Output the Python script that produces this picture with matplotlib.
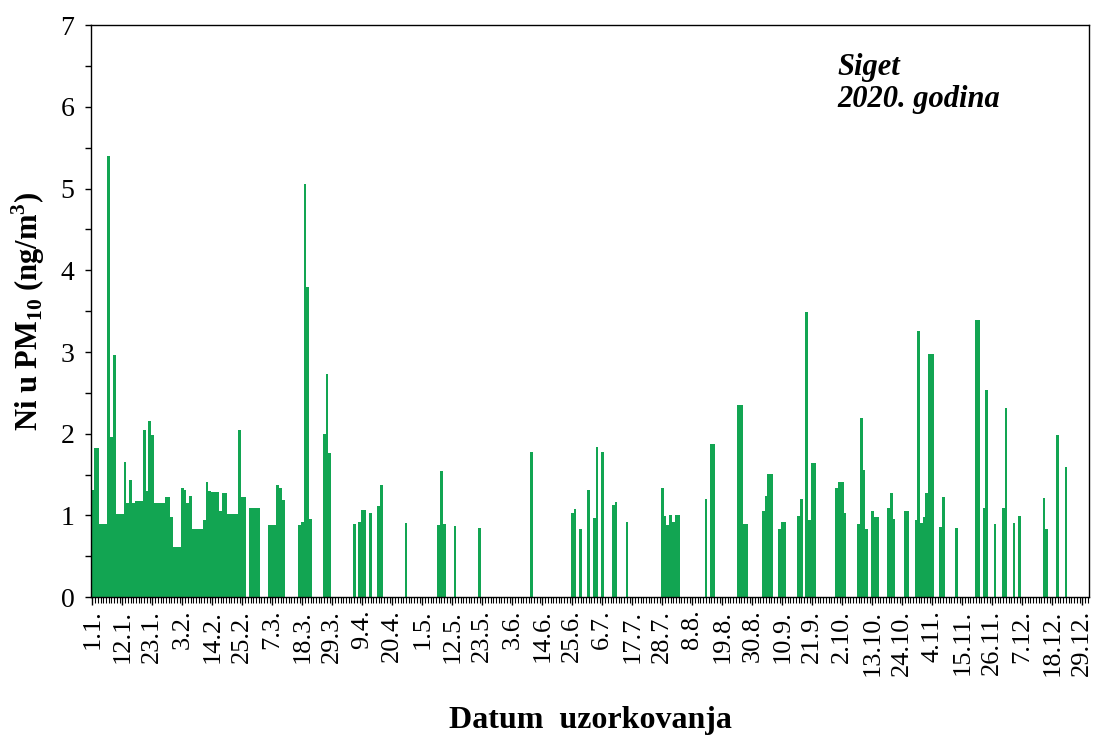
import matplotlib
matplotlib.use("Agg")
import matplotlib.pyplot as plt
from matplotlib.ticker import MultipleLocator, FixedLocator

# Ni u PM10, Siget 2020 -- day of year (0 = 1.1.) and measured value (ng/m3)
sample_days = [
    0, 1, 2, 3, 4, 5, 6, 7, 8, 9, 10, 11, 12, 13, 14, 15, 16, 17, 18, 19,
    20, 21, 22, 23, 24, 25, 26, 27, 28, 29, 30, 31, 32, 33, 34, 35, 36, 37, 38, 39,
    40, 41, 42, 43, 44, 45, 46, 47, 48, 49, 50, 51, 52, 53, 54, 55, 56,
    58, 59, 60, 61, 65, 66, 67, 68, 69, 70,
    76, 77, 78, 79, 80, 85, 86, 87,
    96, 98, 99, 100, 102, 105, 106, 115, 127, 128, 129, 133, 142, 161,
    176, 177, 179, 182, 184, 185, 187, 191, 192, 196,
    209, 210, 211, 212, 213, 214, 215, 225, 227, 228, 237, 238, 239, 240,
    246, 247, 248, 249, 252, 253, 254, 259, 260, 262, 263, 264, 265,
    273, 274, 275, 276, 281, 282, 283, 284, 286, 287, 288,
    292, 293, 294, 298, 299, 302, 303, 304, 305, 306, 307, 308, 311, 312, 317,
    324, 325, 327, 328, 331, 334, 335, 338, 340, 349, 350, 354, 357,
]
ni_values = [
    1.31, 1.82, 1.82, 0.90, 0.90, 0.90, 5.40, 1.96, 2.96, 1.02, 1.02, 1.02, 1.66, 1.15, 1.43, 1.15, 1.18, 1.18, 1.18, 2.04,
    1.30, 2.15, 1.98, 1.15, 1.15, 1.15, 1.15, 1.22, 1.22, 0.98, 0.61, 0.61, 0.61, 1.33, 1.31, 1.15, 1.24, 0.84, 0.84, 0.84,
    0.84, 0.94, 1.41, 1.30, 1.29, 1.29, 1.29, 1.05, 1.28, 1.28, 1.02, 1.02, 1.02, 1.02, 2.04, 1.22, 1.22,
    1.09, 1.09, 1.09, 1.09, 0.88, 0.88, 0.88, 1.37, 1.33, 1.19,
    0.88, 0.92, 5.06, 3.79, 0.96, 2.00, 2.73, 1.77,
    0.90, 0.92, 1.07, 1.07, 1.03, 1.11, 1.37, 0.91, 0.88, 1.54, 0.90, 0.87, 0.85, 1.78,
    1.03, 1.08, 0.84, 1.31, 0.97, 1.84, 1.78, 1.13, 1.17, 0.92,
    1.33, 0.99, 0.88, 1.01, 0.92, 1.01, 1.01, 1.20, 1.87, 1.87, 2.35, 2.35, 0.90, 0.90,
    1.06, 1.24, 1.51, 1.51, 0.84, 0.92, 0.92, 0.99, 1.20, 3.49, 0.94, 1.64, 1.64,
    1.33, 1.41, 1.41, 1.03, 0.90, 2.19, 1.56, 0.84, 1.06, 0.98, 0.98,
    1.09, 1.28, 0.96, 1.06, 1.06, 0.94, 3.26, 0.91, 0.98, 1.28, 2.98, 2.98, 0.86, 1.22, 0.85,
    3.39, 3.39, 1.09, 2.53, 0.89, 1.09, 2.32, 0.91, 0.99, 1.21, 0.84, 1.99, 1.59,
]

tick_days = list(range(0, 366, 11))
tick_labels = [
    "1.1.", "12.1.", "23.1.", "3.2.", "14.2.", "25.2.", "7.3.", "18.3.", "29.3.",
    "9.4.", "20.4.", "1.5.", "12.5.", "23.5.", "3.6.", "14.6.", "25.6.", "6.7.",
    "17.7.", "28.7.", "8.8.", "19.8.", "30.8.", "10.9.", "21.9.", "2.10.", "13.10.",
    "24.10.", "4.11.", "15.11.", "26.11.", "7.12.", "18.12.", "29.12.",
]

plt.rcParams['font.family'] = ['Liberation Serif', 'DejaVu Serif']
plt.rcParams['mathtext.fontset'] = 'custom'
plt.rcParams['mathtext.rm'] = 'Liberation Serif'
plt.rcParams['mathtext.bf'] = 'Liberation Serif:bold'

fig = plt.figure(figsize=(10.99, 7.40), dpi=100)
ax = fig.add_axes([0.0828, 0.193, 0.9082, 0.773])

ax.bar(sample_days, ni_values, width=1.0, color='#12a552', edgecolor='none', align='center')

ax.set_xlim(-0.5, 365.5)
ax.set_ylim(0, 7)

# y axis
ax.yaxis.set_major_locator(MultipleLocator(1))
ax.yaxis.set_minor_locator(MultipleLocator(0.5))
ax.tick_params(axis='y', which='both', direction='out', length=4, width=1, labelsize=20, pad=8)

# x axis: tick every day, label every 11 days
ax.xaxis.set_major_locator(FixedLocator(tick_days))
ax.xaxis.set_minor_locator(MultipleLocator(1))
ax.set_xticklabels(tick_labels, rotation=90, va='top', ha='center')
ax.tick_params(axis='x', which='major', direction='out', length=6, width=1, labelsize=19, pad=3)
ax.tick_params(axis='x', which='minor', direction='out', length=4, width=0.8)

for s in ax.spines.values():
    s.set_linewidth(1)
    s.set_color('black')

ax.set_ylabel(r"Ni u PM$_{\mathbf{10}}$ (ng/m$^{\mathbf{3}}$)", fontsize=22, fontweight='bold', labelpad=10)
ax.set_xlabel("Datum  uzorkovanja", fontsize=23, fontweight='bold', labelpad=22)

ax.text(0.748, 0.952, "Siget\n2020. godina", transform=ax.transAxes, fontsize=22,
        fontweight='bold', fontstyle='italic', va='top', ha='left', linespacing=1.15)

fig.savefig("out.png", dpi=100)
